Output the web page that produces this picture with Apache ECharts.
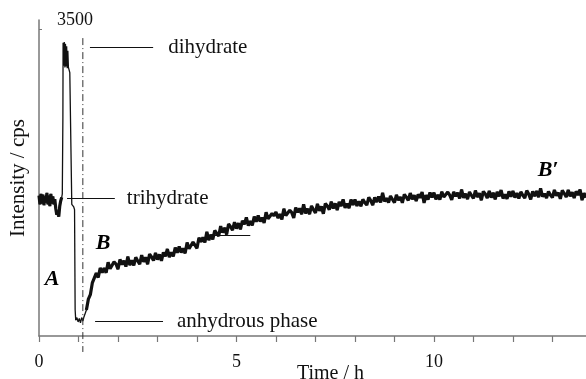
<!DOCTYPE html>
<html>
<head>
<meta charset="utf-8">
<script src="https://cdn.jsdelivr.net/npm/echarts@6/dist/echarts.min.js"></script>
<style>
  html, body { margin: 0; padding: 0; background: #fff; }
  #container { width: 586px; height: 379px; }
</style>
</head>
<body>
<div id="container"></div>
<script>
// time in hours
var hours = [
  0, 0.025, 0.05, 0.075, 0.1, 0.125, 0.15, 0.175, 0.2, 0.225, 0.25, 0.275, 0.3, 0.325, 0.35, 0.375, 0.4, 0.425, 0.45, 0.475, 0.5, 0.525, 0.55,
  0.575, 0.59, 0.6, 0.605, 0.61, 0.625, 0.64, 0.655, 0.67, 0.685, 0.7, 0.715, 0.73, 0.745, 0.76, 0.78, 0.83, 0.88, 0.9, 0.915, 0.93, 0.96, 0.99, 1.02, 1.05, 1.08, 1.11, 1.14, 1.17,
  1.2, 1.25, 1.3, 1.35, 1.4, 1.45, 1.5, 1.55, 1.6, 1.65, 1.7, 1.75, 1.8, 1.85, 1.9, 1.95,
  2.0, 2.05, 2.1, 2.15, 2.2, 2.25, 2.3, 2.35, 2.4, 2.45, 2.5, 2.55, 2.6, 2.65, 2.7, 2.75, 2.8, 2.85, 2.9, 2.95,
  3.0, 3.05, 3.1, 3.15, 3.2, 3.25, 3.3, 3.35, 3.4, 3.45, 3.5, 3.55, 3.6, 3.65, 3.7, 3.75, 3.8, 3.85, 3.9, 3.95,
  4.0, 4.05, 4.1, 4.15, 4.2, 4.25, 4.3, 4.35, 4.4, 4.45, 4.5, 4.55, 4.6, 4.65, 4.7, 4.75, 4.8, 4.85, 4.9, 4.95,
  5.0, 5.05, 5.1, 5.15, 5.2, 5.25, 5.3, 5.35, 5.4, 5.45, 5.5, 5.55, 5.6, 5.65, 5.7, 5.75, 5.8, 5.85, 5.9, 5.95,
  6.0, 6.05, 6.1, 6.15, 6.2, 6.25, 6.3, 6.35, 6.4, 6.45, 6.5, 6.55, 6.6, 6.65, 6.7, 6.75, 6.8, 6.85, 6.9, 6.95,
  7.0, 7.05, 7.1, 7.15, 7.2, 7.25, 7.3, 7.35, 7.4, 7.45, 7.5, 7.55, 7.6, 7.65, 7.7, 7.75, 7.8, 7.85, 7.9, 7.95,
  8.0, 8.05, 8.1, 8.15, 8.2, 8.25, 8.3, 8.35, 8.4, 8.45, 8.5, 8.55, 8.6, 8.65, 8.7, 8.75, 8.8, 8.85, 8.9, 8.95,
  9.0, 9.05, 9.1, 9.15, 9.2, 9.25, 9.3, 9.35, 9.4, 9.45, 9.5, 9.55, 9.6, 9.65, 9.7, 9.75, 9.8, 9.85, 9.9, 9.95,
  10.0, 10.05, 10.1, 10.15, 10.2, 10.25, 10.3, 10.35, 10.4, 10.45, 10.5, 10.55, 10.6, 10.65, 10.7, 10.75, 10.8, 10.85, 10.9, 10.95,
  11.0, 11.05, 11.1, 11.15, 11.2, 11.25, 11.3, 11.35, 11.4, 11.45, 11.5, 11.55, 11.6, 11.65, 11.7, 11.75, 11.8, 11.85, 11.9, 11.95,
  12.0, 12.05, 12.1, 12.15, 12.2, 12.25, 12.3, 12.35, 12.4, 12.45, 12.5, 12.55, 12.6, 12.65, 12.7, 12.75, 12.8, 12.85, 12.9, 12.95,
  13.0, 13.05, 13.1, 13.15, 13.2, 13.25, 13.3, 13.35, 13.4, 13.45, 13.5, 13.55, 13.6, 13.65, 13.7, 13.75, 13.8, 13.85
];
// intensity in cps
var cps = [
  1600, 1500, 1620, 1510, 1610, 1490, 1590, 1520, 1630, 1500, 1600, 1480, 1620, 1510, 1590, 1500, 1560, 1450, 1380, 1420, 1360, 1480, 1540,
  1580, 1620, 2200, 2500, 3340, 3080, 3350, 3060, 3330, 3070, 3300, 3050, 3250, 3060, 3080, 3000, 1500, 1470, 1440, 300, 180, 210, 160, 200, 150, 210, 170, 220, 200,
  296, 420, 471, 605, 601, 717, 666, 775, 722, 774, 720, 841, 766, 753, 844, 820,
  760, 872, 815, 858, 791, 904, 807, 863, 804, 897, 855, 818, 921, 844, 897, 818, 933, 901, 859, 947,
  870, 930, 856, 952, 908, 991, 900, 953, 907, 1007, 948, 1019, 950, 998, 942, 1065, 994, 980, 1071, 1053,
  999, 1120, 1072, 1123, 1065, 1186, 1092, 1154, 1100, 1202, 1168, 1139, 1251, 1179, 1233, 1156, 1275, 1246, 1206, 1297,
  1223, 1286, 1215, 1313, 1272, 1352, 1258, 1309, 1260, 1361, 1301, 1372, 1303, 1348, 1289, 1410, 1335, 1313, 1396, 1369,
  1412, 1343, 1388, 1329, 1450, 1372, 1350, 1433, 1406, 1346, 1462, 1408, 1454, 1387, 1500, 1397, 1450, 1388, 1481, 1439,
  1402, 1505, 1427, 1475, 1393, 1509, 1480, 1440, 1531, 1453, 1511, 1434, 1527, 1479, 1557, 1460, 1508, 1456, 1554, 1492,
  1555, 1482, 1535, 1478, 1556, 1519, 1492, 1580, 1543, 1490, 1578, 1526, 1589, 1522, 1630, 1533, 1570, 1520, 1595, 1555,
  1520, 1608, 1546, 1584, 1517, 1614, 1582, 1545, 1628, 1558, 1603, 1538, 1613, 1576, 1639, 1517, 1605, 1555, 1635, 1580,
  1632, 1557, 1608, 1553, 1644, 1584, 1565, 1640, 1606, 1551, 1642, 1592, 1633, 1568, 1669, 1574, 1620, 1560, 1641, 1601,
  1567, 1657, 1582, 1627, 1547, 1647, 1617, 1572, 1652, 1577, 1632, 1557, 1642, 1592, 1662, 1567, 1612, 1562, 1647, 1587,
  1652, 1577, 1627, 1567, 1642, 1602, 1572, 1657, 1617, 1557, 1647, 1592, 1652, 1582, 1682, 1587, 1622, 1572, 1647, 1607,
  1578, 1663, 1598, 1633, 1563, 1658, 1623, 1583, 1663, 1593, 1638, 1573, 1648, 1608, 1668, 1548, 1628, 1578
];
var xTicks = [0, 1, 2, 3, 4, 5, 6, 7, 8, 9, 10, 11, 12, 13];
var xLabels = [0, 5, 10];
var yLabels = [3500];

var ink = "#111";
var serif = "'Liberation Serif', 'DejaVu Serif', serif";

var trace = hours.map(function (h, i) { return [h, cps[i]]; });
// noisy parts drawn heavier, the fast spike thin
var noisy = hours.map(function (h, i) {
  return (h > 0.58 && h < 1.2) ? [h, null] : [h, cps[i]];
});

function phaseLine(x1, x2, y, name, dist) {
  return [
    { coord: [x1, y], name: name, label: { distance: dist } },
    { coord: [x2, y] }
  ];
}

var dom = document.getElementById("container");
var myChart = echarts.init(dom);
var option = {
  animation: false,
  grid: { left: 39, right: 0, top: 20, bottom: 43, outerBoundsMode: "none" },
  xAxis: {
    type: "value",
    min: 0,
    max: 13.85,
    interval: 1,
    name: "Time / h",
    nameLocation: "middle",
    nameGap: 28,
    nameMoveOverlap: false,
    nameTextStyle: { fontFamily: serif, fontSize: 20, color: ink, padding: [0, 0, 0, 36] },
    axisLine: { lineStyle: { color: "#777", width: 1.5 } },
    axisTick: { customValues: xTicks, length: 6, lineStyle: { color: "#777", width: 1.2 } },
    axisLabel: { customValues: xLabels, margin: 17, fontFamily: serif, fontSize: 18, color: ink },
    splitLine: { show: false }
  },
  yAxis: {
    type: "value",
    min: 0,
    max: 3600,
    name: "Intensity / cps",
    nameLocation: "middle",
    nameGap: 10,
    nameMoveOverlap: false,
    nameTextStyle: { fontFamily: serif, fontSize: 21, color: ink },
    axisLine: { show: true, lineStyle: { color: "#777", width: 1.5 } },
    axisTick: { customValues: yLabels, inside: true, length: 3, lineStyle: { color: "#777" } },
    axisLabel: {
      customValues: yLabels, inside: true, margin: 18, verticalAlign: "bottom",
      formatter: function (v) { return String(v); },
      fontFamily: serif, fontSize: 18, color: ink
    },
    splitLine: { show: false }
  },
  series: [
    {
      name: "spike",
      type: "line",
      data: trace,
      symbol: "none",
      clip: false,
      lineStyle: { color: ink, width: 1.3 },
      markLine: {
        silent: true,
        symbol: ["none", "none"],
        lineStyle: { color: ink, width: 1.2, type: "solid" },
        label: {
          position: "end",
          formatter: "{b}",
          fontFamily: serif,
          fontSize: 21,
          color: ink
        },
        data: [
          phaseLine(1.29, 2.89, 3292, "dihydrate", 15),
          phaseLine(0.71, 1.92, 1572, "trihydrate", 12),
          phaseLine(1.42, 3.14, 171, "anhydrous phase", 14),
          phaseLine(4.3, 5.35, 1150, "", 0)
        ]
      }
    },
    {
      name: "noisy",
      type: "line",
      data: noisy,
      symbol: "none",
      connectNulls: false,
      lineStyle: { color: ink, width: 3.2 }
    },
    {
      name: "boundary",
      type: "line",
      data: [[1.11, 3394], [1.11, -182]],
      symbol: "none",
      clip: false,
      lineStyle: { color: "#333", width: 1, type: [7, 3, 1, 3] }
    },
    {
      name: "regions",
      type: "scatter",
      symbolSize: 0,
      itemStyle: { color: ink, opacity: 1 },
      data: [[0.33, 649, "A"], [1.62, 1059, "B"], [12.89, 1891, "B\u2032"]],
      label: {
        show: true,
        position: "inside",
        formatter: function (p) { return p.data[2]; },
        fontFamily: serif,
        fontStyle: "italic",
        fontWeight: "bold",
        fontSize: 22,
        color: "#000",
        opacity: 1,
        textBorderWidth: 0
      }
    }
  ]
};
myChart.setOption(option);
</script>
</body>
</html>
